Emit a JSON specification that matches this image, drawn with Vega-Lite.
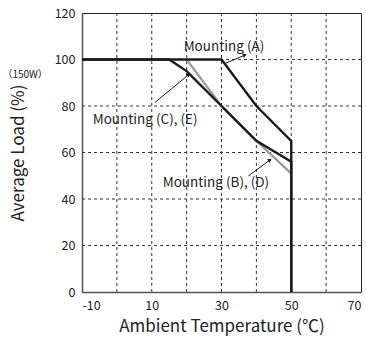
{
  "$schema": "https://vega.github.io/schema/vega-lite/v6.json",
  "width": 279,
  "height": 279,
  "autosize": "none",
  "padding": {"left": 82, "top": 13, "right": 5, "bottom": 48},
  "background": "white",
  "config": {
    "font": "Noto Sans CJK JP",
    "view": {"stroke": "#222", "strokeWidth": 1}
  },
  "datasets": {
    "lines": [
      {"series": "BD", "i": 0, "temp": 20, "load": 100},
      {"series": "BD", "i": 1, "temp": 30, "load": 80},
      {"series": "BD", "i": 2, "temp": 40, "load": 65},
      {"series": "BD", "i": 3, "temp": 50, "load": 51},
      {"series": "A", "i": 0, "temp": -10, "load": 100},
      {"series": "A", "i": 1, "temp": 30, "load": 100},
      {"series": "A", "i": 2, "temp": 40, "load": 80},
      {"series": "A", "i": 3, "temp": 50, "load": 65},
      {"series": "A", "i": 4, "temp": 50, "load": 0},
      {"series": "CE", "i": 0, "temp": -10, "load": 100},
      {"series": "CE", "i": 1, "temp": 15, "load": 100},
      {"series": "CE", "i": 2, "temp": 20, "load": 95},
      {"series": "CE", "i": 3, "temp": 30, "load": 80},
      {"series": "CE", "i": 4, "temp": 40, "load": 65},
      {"series": "CE", "i": 5, "temp": 50, "load": 56},
      {"series": "CE", "i": 6, "temp": 50, "load": 0}
    ],
    "arrows": [
      {"name": "A", "temp": 30.7, "load": 98.1, "temp2": 36.7, "load2": 101.9},
      {"name": "CE", "temp": 10.9, "load": 81.5, "temp2": 20.6, "load2": 93.5},
      {"name": "BD", "temp": 37.7, "load": 49.9, "temp2": 43.9, "load2": 56.8}
    ],
    "labels": [
      {"text": "Mounting (A)", "temp": 30.7, "load": 105.4},
      {"text": "Mounting (C), (E)", "temp": 8.1, "load": 74},
      {"text": "Mounting (B), (D)", "temp": 28.4, "load": 47}
    ],
    "note": [{"text": "（150W）", "temp": -26.3, "load": 93.3}],
    "vgrid": [{"temp": 0}, {"temp": 10}, {"temp": 20}, {"temp": 30}, {"temp": 40}, {"temp": 50}, {"temp": 60}],
    "hgrid": [{"load": 20}, {"load": 40}, {"load": 60}, {"load": 80}, {"load": 100}]
  },
  "layer": [
    {
      "data": {"name": "lines"},
      "transform": [{"filter": "datum.series === 'BD'"}],
      "mark": {"type": "line", "color": "#999", "strokeWidth": 2, "strokeJoin": "miter"},
      "encoding": {
        "x": {"field": "temp", "type": "quantitative", "scale": {"domain": [-10, 70], "nice": false},
          "axis": {"values": [-10, 0, 10, 20, 30, 40, 50, 60, 70], "labelExpr": "datum.value", "title": "Ambient Temperature (℃)", "titlePadding": 7,
            "grid": false, "ticks": false, "domainColor": "#555", "domainWidth": 1.5, "labelOverlap": false,
            "labelFontSize": 12.5, "labelColor": "#222", "labelPadding": 7,
            "titleFontSize": 17, "titleFontWeight": "normal", "titleColor": "#222"}},
        "y": {"field": "load", "type": "quantitative", "scale": {"domain": [0, 120], "nice": false},
          "axis": {"values": [0, 20, 40, 60, 80, 100, 120], "title": "Average Load (%)", "titlePadding": 27,
            "grid": false, "ticks": false, "domainColor": "#555", "domainWidth": 1.5, "labelOverlap": false,
            "labelFontSize": 12.5, "labelColor": "#222", "labelPadding": 7,
            "titleFontSize": 17, "titleFontWeight": "normal", "titleColor": "#222"}},
        "detail": {"field": "series"},
        "order": {"field": "i", "type": "quantitative"}
      }
    },
    {
      "data": {"name": "vgrid"},
      "mark": {"type": "rule", "color": "#333", "strokeWidth": 1, "strokeDash": [3, 3]},
      "encoding": {"x": {"field": "temp", "type": "quantitative"}}
    },
    {
      "data": {"name": "hgrid"},
      "mark": {"type": "rule", "color": "#333", "strokeWidth": 1, "strokeDash": [3, 3]},
      "encoding": {"y": {"field": "load", "type": "quantitative"}}
    },
    {
      "data": {"name": "lines"},
      "transform": [{"filter": "datum.series === 'BD'"}],
      "mark": {"type": "line", "color": "#999", "strokeWidth": 2, "strokeJoin": "miter"},
      "encoding": {
        "x": {"field": "temp", "type": "quantitative"},
        "y": {"field": "load", "type": "quantitative"},
        "detail": {"field": "series"},
        "order": {"field": "i", "type": "quantitative"}
      }
    },
    {
      "data": {"name": "lines"},
      "transform": [{"filter": "datum.series !== 'BD'"}],
      "mark": {"type": "line", "color": "#1a1a1a", "strokeWidth": 2.4, "strokeJoin": "miter"},
      "encoding": {
        "x": {"field": "temp", "type": "quantitative"},
        "y": {"field": "load", "type": "quantitative"},
        "detail": {"field": "series"},
        "order": {"field": "i", "type": "quantitative"}
      }
    },
    {
      "data": {"name": "arrows"},
      "mark": {"type": "rule", "color": "#1a1a1a", "strokeWidth": 1},
      "encoding": {
        "x": {"field": "temp", "type": "quantitative"},
        "y": {"field": "load", "type": "quantitative"},
        "x2": {"field": "temp2"},
        "y2": {"field": "load2"}
      }
    },
    {
      "data": {"name": "arrows"},
      "transform": [{"filter": "datum.name === 'A'"}],
      "mark": {"type": "point", "shape": "triangle-right", "filled": true, "color": "#1a1a1a", "size": 20, "angle": 337, "opacity": 1},
      "encoding": {"x": {"field": "temp2", "type": "quantitative"}, "y": {"field": "load2", "type": "quantitative"}}
    },
    {
      "data": {"name": "arrows"},
      "transform": [{"filter": "datum.name === 'CE'"}],
      "mark": {"type": "point", "shape": "triangle-right", "filled": true, "color": "#1a1a1a", "size": 20, "angle": 320, "opacity": 1},
      "encoding": {"x": {"field": "temp2", "type": "quantitative"}, "y": {"field": "load2", "type": "quantitative"}}
    },
    {
      "data": {"name": "arrows"},
      "transform": [{"filter": "datum.name === 'BD'"}],
      "mark": {"type": "point", "shape": "triangle-right", "filled": true, "color": "#1a1a1a", "size": 20, "angle": 324, "opacity": 1},
      "encoding": {"x": {"field": "temp2", "type": "quantitative"}, "y": {"field": "load2", "type": "quantitative"}}
    },
    {
      "data": {"name": "labels"},
      "mark": {"type": "text", "fontSize": 13.5, "color": "#222", "align": "center", "baseline": "middle"},
      "encoding": {
        "x": {"field": "temp", "type": "quantitative"},
        "y": {"field": "load", "type": "quantitative"},
        "text": {"field": "text"}
      }
    },
    {
      "data": {"name": "note"},
      "mark": {"type": "text", "fontSize": 10, "color": "#222", "align": "center", "baseline": "middle", "clip": false},
      "encoding": {
        "x": {"field": "temp", "type": "quantitative"},
        "y": {"field": "load", "type": "quantitative"},
        "text": {"field": "text"}
      }
    }
  ]
}
